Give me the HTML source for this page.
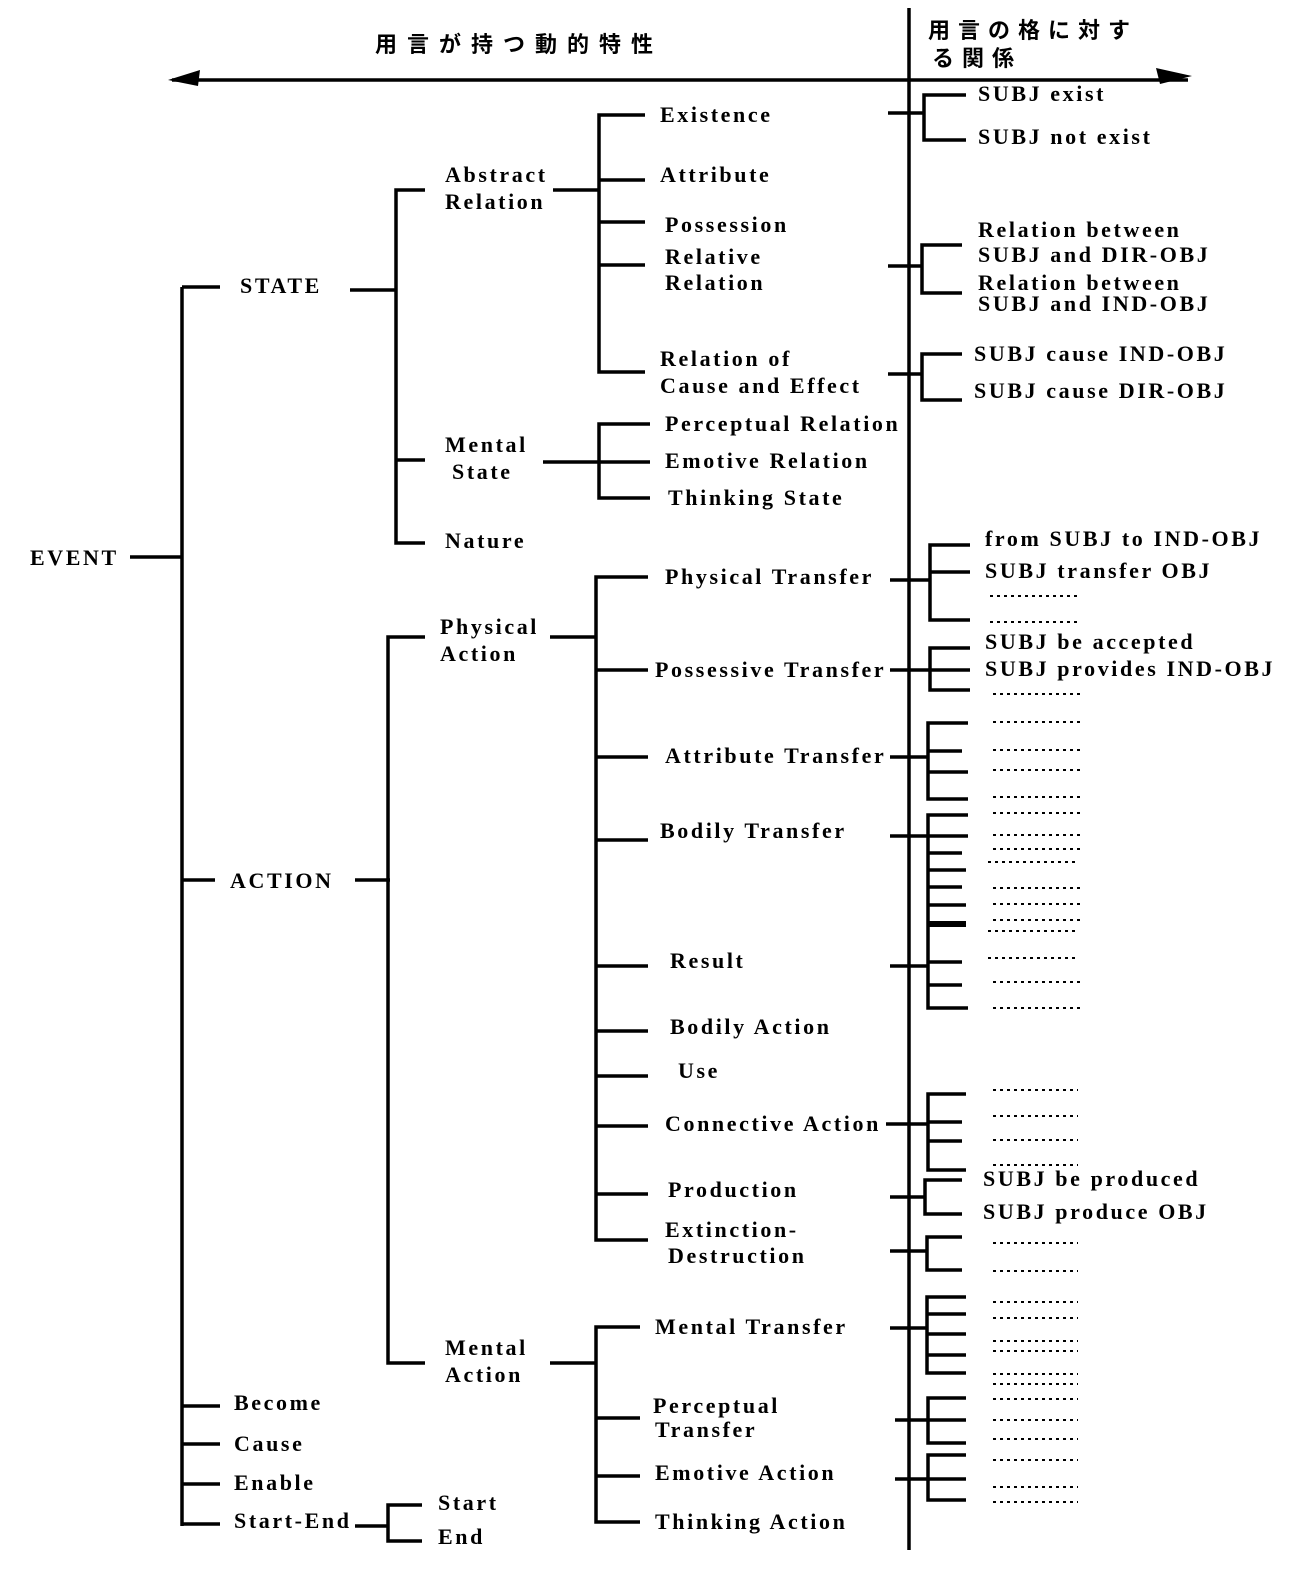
<!DOCTYPE html>
<html><head><meta charset="utf-8"><style>
html,body{margin:0;padding:0;background:#fff;}
svg{display:block}
text{font-family:"Liberation Serif","Noto Serif CJK SC",serif;font-weight:bold;font-size:22px;letter-spacing:2.6px;fill:#000}
.j{font-family:"Liberation Sans","Noto Sans CJK JP",sans-serif;font-size:22px}
line,polyline{stroke:#000;stroke-width:3.5;fill:none}
.d{stroke-width:2;stroke-dasharray:3 4}
</style></head><body>
<svg width="1312" height="1572" viewBox="0 0 1312 1572" xmlns="http://www.w3.org/2000/svg">
<text class="j" x="375" y="52" style="letter-spacing:10px">用言が持つ動的特性</text>
<text class="j" x="928" y="38" style="letter-spacing:8px">用言の格に対す</text>
<text class="j" x="932" y="66" style="letter-spacing:8px">る関係</text>
<line x1="172" y1="80" x2="1188" y2="80"/>
<polygon points="168,80 200,70 198,86" fill="#000"/>
<polygon points="1192,76 1156,68 1160,84" fill="#000"/>
<line x1="909" y1="8" x2="909" y2="1550"/>

<text x="30" y="565">EVENT</text>
<line x1="130" y1="557" x2="182" y2="557"/>
<line x1="182" y1="287" x2="182" y2="1526"/>
<line x1="182" y1="287" x2="220" y2="287"/>
<text x="240" y="293">STATE</text>
<line x1="350" y1="290" x2="396" y2="290"/>
<line x1="182" y1="880" x2="215" y2="880"/>
<text x="230" y="888">ACTION</text>
<line x1="355" y1="880" x2="390" y2="880"/>
<line x1="182" y1="1406" x2="220" y2="1406"/>
<text x="234" y="1410">Become</text>
<line x1="182" y1="1444" x2="220" y2="1444"/>
<text x="234" y="1451">Cause</text>
<line x1="182" y1="1484" x2="220" y2="1484"/>
<text x="234" y="1490">Enable</text>
<line x1="182" y1="1524" x2="220" y2="1524"/>
<text x="234" y="1528">Start-End</text>
<line x1="355" y1="1526" x2="388" y2="1526"/>
<polyline points="422,1505 388,1505 388,1541 422,1541"/>
<text x="438" y="1510">Start</text>
<text x="438" y="1544">End</text>

<polyline points="425,190 396,190 396,543 425,543"/>
<line x1="396" y1="460" x2="425" y2="460"/>
<text x="445" y="182">Abstract</text>
<text x="445" y="209">Relation</text>
<text x="445" y="452">Mental</text>
<text x="452" y="479">State</text>
<text x="445" y="548">Nature</text>
<line x1="553" y1="190" x2="599" y2="190"/>
<polyline points="645,115 599,115 599,372 645,372"/>
<line x1="599" y1="180" x2="645" y2="180"/>
<line x1="599" y1="222" x2="645" y2="222"/>
<line x1="599" y1="265" x2="645" y2="265"/>
<text x="660" y="122">Existence</text>
<text x="660" y="182">Attribute</text>
<text x="665" y="232">Possession</text>
<text x="665" y="264">Relative</text>
<text x="665" y="290">Relation</text>
<text x="660" y="366">Relation of</text>
<text x="660" y="393">Cause and Effect</text>
<line x1="543" y1="462" x2="599" y2="462"/>
<polyline points="650,424 599,424 599,498 650,498"/>
<line x1="599" y1="462" x2="650" y2="462"/>
<text x="665" y="431">Perceptual Relation</text>
<text x="665" y="468">Emotive Relation</text>
<text x="668" y="505">Thinking State</text>

<polyline points="425,637 388,637 388,1363 425,1363"/>
<text x="440" y="634">Physical</text>
<text x="440" y="661">Action</text>
<text x="445" y="1355">Mental</text>
<text x="445" y="1382">Action</text>
<line x1="550" y1="637" x2="596" y2="637"/>
<polyline points="648,577 596,577 596,1240 648,1240"/>
<line x1="596" y1="670" x2="648" y2="670"/>
<line x1="596" y1="757" x2="648" y2="757"/>
<line x1="596" y1="840" x2="648" y2="840"/>
<line x1="596" y1="966" x2="648" y2="966"/>
<line x1="596" y1="1031" x2="648" y2="1031"/>
<line x1="596" y1="1076" x2="648" y2="1076"/>
<line x1="596" y1="1126" x2="648" y2="1126"/>
<line x1="596" y1="1194" x2="648" y2="1194"/>
<text x="665" y="584">Physical Transfer</text>
<text x="655" y="677">Possessive Transfer</text>
<text x="665" y="763">Attribute Transfer</text>
<text x="660" y="838">Bodily Transfer</text>
<text x="670" y="968">Result</text>
<text x="670" y="1034">Bodily Action</text>
<text x="678" y="1078">Use</text>
<text x="665" y="1131">Connective Action</text>
<text x="668" y="1197">Production</text>
<text x="665" y="1237">Extinction-</text>
<text x="668" y="1263">Destruction</text>
<line x1="550" y1="1363" x2="596" y2="1363"/>
<polyline points="640,1327 596,1327 596,1522 640,1522"/>
<line x1="596" y1="1418" x2="640" y2="1418"/>
<line x1="596" y1="1476" x2="640" y2="1476"/>
<text x="655" y="1334">Mental Transfer</text>
<text x="653" y="1413">Perceptual</text>
<text x="655" y="1437">Transfer</text>
<text x="655" y="1480">Emotive Action</text>
<text x="655" y="1529">Thinking Action</text>

<g>
<line x1="888" y1="113" x2="924" y2="113"/><polyline points="966,95 924,95 924,140 966,140"/>
<line x1="888" y1="266" x2="922" y2="266"/><polyline points="962,245 922,245 922,293 962,293"/>
<line x1="888" y1="374" x2="922" y2="374"/><polyline points="962,354 922,354 922,400 962,400"/>
<line x1="890" y1="580" x2="930" y2="580"/><polyline points="970,545 930,545 930,620 970,620"/><line x1="930" y1="572" x2="970" y2="572"/>
<line x1="890" y1="670" x2="930" y2="670"/><polyline points="970,648 930,648 930,690 970,690"/><line x1="930" y1="670" x2="970" y2="670"/>
<line x1="890" y1="757" x2="928" y2="757"/><polyline points="968,723 928,723 928,799 968,799"/><line x1="928" y1="751" x2="962" y2="751"/><line x1="928" y1="772" x2="968" y2="772"/>
<line x1="890" y1="836" x2="928" y2="836"/><polyline points="968,815 928,815 928,1008 968,1008"/>
<line x1="928" y1="836" x2="968" y2="836"/><line x1="928" y1="853" x2="962" y2="853"/><line x1="928" y1="870" x2="966" y2="870"/><line x1="928" y1="887" x2="962" y2="887"/><line x1="928" y1="905" x2="966" y2="905"/><line x1="928" y1="924" x2="966" y2="924" style="stroke-width:6"/>
<line x1="890" y1="966" x2="928" y2="966"/><line x1="928" y1="962" x2="962" y2="962"/><line x1="928" y1="985" x2="962" y2="985"/>
<line x1="886" y1="1124" x2="928" y2="1124"/><polyline points="966,1094 928,1094 928,1170 966,1170"/><line x1="928" y1="1122" x2="962" y2="1122"/><line x1="928" y1="1141" x2="962" y2="1141"/>
<line x1="890" y1="1197" x2="925" y2="1197"/><polyline points="962,1180 925,1180 925,1214 962,1214"/>
<line x1="890" y1="1251" x2="927" y2="1251"/><polyline points="962,1237 927,1237 927,1270 962,1270"/>
<line x1="890" y1="1328" x2="927" y2="1328"/><polyline points="966,1297 927,1297 927,1373 966,1373"/><line x1="927" y1="1314" x2="966" y2="1314"/><line x1="927" y1="1334" x2="966" y2="1334"/><line x1="927" y1="1355" x2="966" y2="1355"/>
<line x1="895" y1="1420" x2="928" y2="1420"/><polyline points="966,1398 928,1398 928,1443 966,1443"/><line x1="928" y1="1420" x2="966" y2="1420"/>
<line x1="895" y1="1479" x2="928" y2="1479"/><polyline points="966,1455 928,1455 928,1500 966,1500"/><line x1="928" y1="1479" x2="966" y2="1479"/>
</g>
<text x="978" y="101">SUBJ exist</text>
<text x="978" y="144">SUBJ not exist</text>
<text x="978" y="237">Relation between</text>
<text x="978" y="262">SUBJ and DIR-OBJ</text>
<text x="978" y="290">Relation between</text>
<text x="978" y="311">SUBJ and IND-OBJ</text>
<text x="974" y="361">SUBJ cause IND-OBJ</text>
<text x="974" y="398">SUBJ cause DIR-OBJ</text>
<text x="985" y="546">from SUBJ to IND-OBJ</text>
<text x="985" y="578">SUBJ transfer OBJ</text>
<text x="985" y="649">SUBJ be accepted</text>
<text x="985" y="676">SUBJ provides IND-OBJ</text>
<text x="983" y="1186">SUBJ be produced</text>
<text x="983" y="1219">SUBJ produce OBJ</text>
<g>
<line class="d" x1="990" y1="596" x2="1078" y2="596"/><line class="d" x1="990" y1="622" x2="1078" y2="622"/>
<line class="d" x1="993" y1="694" x2="1080" y2="694"/>
<line class="d" x1="993" y1="722" x2="1080" y2="722"/><line class="d" x1="993" y1="750" x2="1080" y2="750"/><line class="d" x1="993" y1="770" x2="1080" y2="770"/><line class="d" x1="993" y1="797" x2="1080" y2="797"/><line class="d" x1="993" y1="813" x2="1080" y2="813"/><line class="d" x1="993" y1="835" x2="1080" y2="835"/><line class="d" x1="993" y1="849" x2="1080" y2="849"/><line class="d" x1="988" y1="862" x2="1075" y2="862"/><line class="d" x1="993" y1="888" x2="1080" y2="888"/><line class="d" x1="993" y1="904" x2="1080" y2="904"/><line class="d" x1="993" y1="920" x2="1080" y2="920"/><line class="d" x1="988" y1="931" x2="1075" y2="931"/><line class="d" x1="988" y1="958" x2="1075" y2="958"/><line class="d" x1="993" y1="982" x2="1080" y2="982"/><line class="d" x1="993" y1="1008" x2="1080" y2="1008"/>
<line class="d" x1="993" y1="1090" x2="1078" y2="1090"/><line class="d" x1="993" y1="1116" x2="1078" y2="1116"/><line class="d" x1="993" y1="1140" x2="1078" y2="1140"/><line class="d" x1="993" y1="1165" x2="1078" y2="1165"/>
<line class="d" x1="993" y1="1243" x2="1078" y2="1243"/><line class="d" x1="993" y1="1271" x2="1078" y2="1271"/>
<line class="d" x1="993" y1="1302" x2="1078" y2="1302"/><line class="d" x1="993" y1="1318" x2="1078" y2="1318"/><line class="d" x1="993" y1="1341" x2="1078" y2="1341"/><line class="d" x1="993" y1="1351" x2="1078" y2="1351"/><line class="d" x1="993" y1="1374" x2="1078" y2="1374"/><line class="d" x1="993" y1="1384" x2="1078" y2="1384"/><line class="d" x1="993" y1="1399" x2="1078" y2="1399"/><line class="d" x1="993" y1="1420" x2="1078" y2="1420"/><line class="d" x1="993" y1="1439" x2="1078" y2="1439"/><line class="d" x1="993" y1="1460" x2="1078" y2="1460"/><line class="d" x1="993" y1="1487" x2="1078" y2="1487"/><line class="d" x1="993" y1="1502" x2="1078" y2="1502"/>
</g>
</svg>
</body></html>
